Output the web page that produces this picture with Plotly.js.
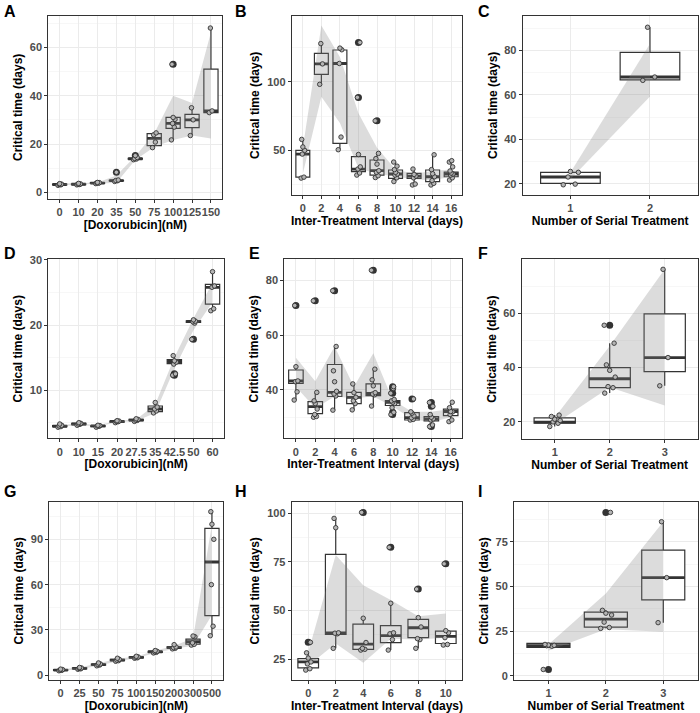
<!DOCTYPE html>
<html><head><meta charset="utf-8">
<script src="https://cdn.plot.ly/plotly-3.0.1.min.js"></script>
<style>html,body{margin:0;padding:0;background:#fff}#plot{width:700px;height:713px}</style>
</head><body><div id="plot"></div>
<script>
// ---------- DATA ----------
// box = [lowerWhisker, q1, median, q3, upperWhisker]; rib = [lower, upper]
const catsA = ['0','10','20','35','50','75','100','125','150'];
const boxA = [[2.9,3.1,3.25,3.4,3.6],[3.1,3.2,3.35,3.5,3.7],[3.6,3.7,3.85,4.0,4.1],[4.5,4.7,4.85,5.0,5.1],[13.5,13.7,13.9,14.1,14.4],[18.5,19.3,22.3,24.3,24.6],[21.7,26.5,28.5,31.0,31.0],[23.5,26.8,30.0,32.3,35.0],[33.0,33.0,33.7,51.0,68.0]];
const ptsA = [[2.9,3.1,3.3,3.4,3.6],[3.1,3.25,3.4,3.5,3.7],[3.6,3.8,3.9,4.0,4.1],[4.5,4.8,4.9,5.1,8.3],[13.5,13.8,14.0,14.4,15.2],[18.5,20.8,23.8,24.6],[21.7,27.0,28.5,30.2,31.0,53.0],[23.5,30.0,35.0],[33.0,33.7,68.0]];
const ribA = [[2.9,3.6],[3.1,3.7],[3.5,4.1],[4.0,7.0],[13.4,14.9],[18.8,24.3],[21.7,40.0],[23.5,37.0],[22.3,66.2]];

const catsB = ['0','2','4','6','8','10','12','14','16'];
const boxB = [[29.8,30.5,47.3,50.0,58.0],[98.1,105.3,113.0,120.6,127.8],[50.5,55.1,113.3,123.1,124.5],[32.0,34.5,36.4,45.4,47.0],[30.2,32.0,35.2,43.0,47.8],[27.3,29.6,32.8,35.7,41.5],[24.8,29.6,31.3,33.3,36.4],[24.8,27.2,30.8,35.7,46.8],[28.4,30.8,32.8,34.2,42.5]];
const ptsB = [[29.8,30.5,47.3,50.0,52.5,58.0],[98.1,113.0,127.8],[50.5,59.7,113.3,123.3,124.5],[32.0,33.5,36.4,38.0,47.0,88.6,128.6],[30.2,31.5,34.0,35.2,40.0,44.0,47.8,71.5],[27.3,30.0,32.0,32.8,34.0,36.0,38.5,41.5],[24.8,25.5,30.0,31.3,32.5,36.4],[24.8,26.0,28.0,30.8,33.0,36.0,46.8],[28.4,30.0,32.0,32.8,33.5,35.0,38.0,41.5,42.5]];
const ribB = [[33,52],[89,141],[70,118],[37,77],[33,52],[31,36],[29,33],[28,35],[31,36]];

const catsC = ['1','2'];
const boxC = [[19.5,20.15,23.0,25.1,25.5],[66.5,66.7,68.0,79.1,90.4]];
const ptsC = [[19.5,19.8,23.0,25.1,25.5],[66.5,68.0,90.4]];
const ribC = [[22.0,25.0],[59.2,83.0]];

const catsD = ['0','10','15','20','27.5','35','42.5','50','60'];
const boxD = [[4.3,4.4,4.45,4.55,4.8],[4.6,4.7,4.8,4.9,5.0],[4.3,4.4,4.5,4.55,4.6],[5.0,5.1,5.2,5.25,5.3],[5.2,5.3,5.4,5.5,5.6],[6.5,6.7,7.1,7.56,8.1],[14.0,14.06,14.4,14.7,15.3],[20.3,20.4,20.56,20.66,20.8],[22.2,23.2,25.8,26.24,28.2]];
const ptsD = [[4.3,4.4,4.5,4.6,4.8],[4.6,4.75,4.8,4.9,5.0],[4.3,4.45,4.5,4.55,4.6],[5.0,5.15,5.2,5.25,5.3],[5.2,5.35,5.4,5.5,5.6],[6.5,6.8,7.1,7.4,8.1],[12.3,12.5,14.0,14.3,14.5,15.3],[17.8,20.3,20.5,20.6,20.8],[22.2,22.5,25.8,26.0,28.2]];
const ribD = [[4.35,4.6],[4.65,4.9],[4.4,4.6],[5.05,5.3],[5.25,5.5],[6.5,7.8],[13.3,15.0],[19.2,21.0],[23.5,26.5]];

const catsE = ['0','2','4','6','8','10','12','14','16'];
const boxE = [[36.3,42.4,43.3,47.3,48.5],[30.0,31.3,33.9,35.7,39.1],[32.6,37.6,39.1,49.3,55.9],[32.7,35.0,37.3,39.1,42.2],[34.1,37.9,38.7,42.2,47.6],[33.5,34.3,35.5,36.1,36.5],[29.0,29.0,29.9,31.7,32.0],[27.2,28.7,29.4,30.2,31.0],[28.4,30.6,32.1,33.0,35.5]];
const ptsE = [[36.3,39.3,43.0,43.3,48.5,70.9],[30.0,30.3,31.0,33.0,35.0,36.0,39.1,72.6],[32.6,37.8,38.5,39.5,43.0,47.0,55.9,76.3],[32.7,35.0,36.0,37.3,39.0,42.2],[34.1,38.2,38.5,39.0,41.5,43.7,47.6,83.8],[31.0,31.8,33.5,35.0,35.5,36.0,36.5,38.8,40.5,41.2],[29.0,29.2,29.8,30.5,31.5,32.0,36.7],[26.6,27.2,29.0,29.4,30.0,31.0,34.0,35.4],[28.4,29.0,31.0,32.0,32.1,33.5,35.5]];
const ribE = [[41.2,51.8],[33.3,43.2],[37.6,55.9],[37.0,41.2],[37.6,53.4],[33.9,36.3],[29.4,32.0],[28.2,32.0],[30.0,33.0]];

const catsF = ['1','2','3'];
const boxF = [[18.3,19.5,19.9,21.5,22.5],[30.6,32.6,35.9,40.0,49.0],[33.3,38.5,43.7,59.8,76.2]];
const ptsF = [[18.3,19.5,20.0,20.5,21.0,22.0,22.5],[30.6,32.6,33.0,36.5,39.0,41.0,49.0,55.6],[33.3,43.7,76.2]];
const ribF = [[19.2,21.6],[32.8,48.0],[26.0,76.2]];

const catsG = ['0','25','50','75','100','150','200','300','500'];
const boxG = [[3.0,3.3,3.5,3.8,4.1],[4.0,4.3,4.6,4.9,5.2],[6.3,6.8,7.1,7.5,8.2],[9.3,9.7,10.1,10.6,11.3],[11.3,11.6,11.9,12.2,12.6],[14.8,15.2,15.6,15.9,16.4],[17.5,17.9,18.3,18.8,20.3],[20.0,20.7,22.3,24.0,26.0],[26.2,39.5,75.0,97.3,108.3]];
const ptsG = [[3.0,3.3,3.5,3.8,4.1],[4.0,4.3,4.6,4.9,5.2],[6.3,6.8,7.1,7.5,8.2],[9.3,9.7,10.1,10.6,11.3],[11.3,11.6,11.9,12.2,12.6],[14.8,15.2,15.6,15.9,16.4],[17.5,17.9,18.3,18.8,20.3],[20.0,20.5,21.5,25.5,26.0],[26.2,32.5,60.0,90.0,100.0,108.3]];
const ribG = [[3.0,4.0],[4.0,5.1],[6.3,8.0],[9.3,11.0],[11.3,12.5],[14.8,16.3],[17.6,19.5],[19.5,24.5],[40.0,100.0]];

const catsH = ['0','2','4','6','8','10'];
const boxH = [[19.3,20.4,23.5,25.2,28.2],[30.5,37.7,38.4,78.9,97.4],[29.6,30.0,32.7,43.0,46.0],[29.6,33.4,37.0,42.2,53.7],[30.5,36.0,41.1,45.4,46.3],[32.2,33.0,36.7,39.4,39.6]];
const ptsH = [[19.3,20.0,22.5,23.5,25.5,28.2,33.6],[30.5,38.0,38.3,38.5,92.6,97.4],[29.6,30.0,30.5,33.5,46.0,100.5],[29.6,35.0,38.0,38.5,53.7,82.5],[30.5,35.0,35.5,41.5,46.3,61.0],[32.2,32.5,36.0,38.5,39.6,74.0]];
const ribH = [[21.5,28.5],[33.0,78.5],[23.1,63.0],[35.5,55.4],[35.0,47.0],[36.0,48.5]];

const catsI = ['1','2','3'];
const boxI = [[15.9,15.9,16.8,18.1,18.1],[26.5,27.2,31.7,35.6,36.8],[29.7,42.4,54.9,70.3,86.2]];
const ptsI = [[3.5,16.5,16.8,17.0,17.2,17.5],[26.5,27.0,30.0,34.0,35.0,36.6,91.4],[29.7,54.9,86.2]];
const ribI = [[14.0,17.5],[26.0,46.0],[24.6,86.2]];

const xTitleDox = '[Doxorubicin](nM)';
const xTitleInt = 'Inter-Treatment Interval (days)';
const xTitleSer = 'Number of Serial Treatment';
const yTitle = 'Critical time (days)';

// ---------- LAYOUT (pixel boxes of each panel) ----------
const W = 700, H = 713;
const panels = [
  {lab:'A', cats:catsA, box:boxA, pts:ptsA, rib:ribA, yr:[-2.76,73.1], dt:20, px:[48.3,222.3,15.7,199], xt:xTitleDox, lp:[2,1]},
  {lab:'B', cats:catsB, box:boxB, pts:ptsB, rib:ribB, yr:[17.5,148.1], dt:50, px:[291.7,462.3,15.7,195], xt:xTitleInt, lp:[233,1]},
  {lab:'C', cats:catsC, box:boxC, pts:ptsC, rib:ribC, yr:[14.9,95.6], dt:20, px:[522.7,697.7,15.7,195], xt:xTitleSer, lp:[476,1]},
  {lab:'D', cats:catsD, box:boxD, pts:ptsD, rib:ribD, yr:[2.6,30.1], dt:10, px:[48.3,224,259.3,438.3], xt:xTitleDox, lp:[2,243]},
  {lab:'E', cats:catsE, box:boxE, pts:ptsE, rib:ribE, yr:[22.3,87.8], dt:20, px:[284.3,462.3,259.3,438.3], xt:xTitleInt, lp:[247,243]},
  {lab:'F', cats:catsF, box:boxF, pts:ptsF, rib:ribF, yr:[13.7,79.9], dt:20, px:[521.7,697.7,259.3,439], xt:xTitleSer, lp:[476,243]},
  {lab:'G', cats:catsG, box:boxG, pts:ptsG, rib:ribG, yr:[-3.1,114.9], dt:30, px:[49.3,223.3,501.7,680], xt:xTitleDox, lp:[2,481]},
  {lab:'H', cats:catsH, box:boxH, pts:ptsH, rib:ribH, yr:[14.2,106], dt:25, px:[291.7,462.3,501.7,680], xt:xTitleInt, lp:[233,481]},
  {lab:'I', cats:catsI, box:boxI, pts:ptsI, rib:ribI, yr:[-2.4,97.4], dt:25, px:[514,697.7,501.7,680], xt:xTitleSer, lp:[476,481]},
];

const jit = [-0.09,0.06,-0.03,0.1,0.0,-0.06,0.08,-0.1,0.03,0.05];
const tickFont = {family:'Liberation Sans, Arial, sans-serif', size:11, color:'#4d4d4d', weight:'bold'};
const titleFont = {family:'Liberation Sans, Arial, sans-serif', size:12, color:'#000', weight:'bold'};

const data = [];
const layout = {
  width: W, height: H, margin:{l:0,r:0,t:0,b:0},
  paper_bgcolor:'#fff', plot_bgcolor:'#fff', showlegend:false,
  annotations: []
};

panels.forEach((p, k) => {
  const n = k + 1;
  const xa = n === 1 ? 'x' : 'x' + n;
  const ya = n === 1 ? 'y' : 'y' + n;
  const idx = p.cats.map((_, i) => i);
  const common = {xaxis: xa, yaxis: ya, hoverinfo:'skip', showlegend:false};

  data.push(Object.assign({
    type:'box', x: idx,
    lowerfence: p.box.map(b => b[0]), q1: p.box.map(b => b[1]),
    median: p.box.map(b => b[2]), q3: p.box.map(b => b[3]),
    upperfence: p.box.map(b => b[4]),
    width: 0.75, whiskerwidth: 0, boxpoints: false,
    fillcolor:'#ffffff', line:{color:'#333333', width:1.2}
  }, common));

  const mx = [], my = [];
  p.box.forEach((b, i) => { mx.push(i - 0.375, i + 0.375, null); my.push(b[2], b[2], null); });
  data.push(Object.assign({type:'scatter', mode:'lines', x:mx, y:my, line:{color:'#333333', width:2.8}}, common));

  data.push(Object.assign({
    type:'scatter', mode:'lines',
    x: idx.concat(idx.slice().reverse()),
    y: p.rib.map(r => r[1]).concat(p.rib.map(r => r[0]).reverse()),
    fill:'toself', fillcolor:'rgba(128,128,128,0.28)', line:{width:0, color:'rgba(0,0,0,0)'}
  }, common));

  const ox = [], oy = [];
  p.pts.forEach((arr, i) => arr.forEach(v => {
    if (v < p.box[i][0] - 1e-9 || v > p.box[i][4] + 1e-9) { ox.push(i); oy.push(v); }
  }));
  data.push(Object.assign({type:'scatter', mode:'markers', x:ox, y:oy,
    marker:{size:7, color:'#333333'}}, common));

  const px = [], py = [];
  p.pts.forEach((arr, i) => arr.forEach((v, j) => { px.push(i + jit[j % jit.length]); py.push(v); }));
  data.push(Object.assign({type:'scatter', mode:'markers', x:px, y:py,
    marker:{size:4.5, color:'#b5b5b5', line:{color:'#333333', width:0.9}}}, common));

  const [l, r, t, bt] = p.px;
  const key = n === 1 ? '' : n;
  layout['xaxis' + key] = {
    domain:[l / W, r / W], anchor: ya, range:[-0.6, p.cats.length - 0.4],
    tickmode:'array', tickvals: idx, ticktext: p.cats,
    showgrid:true, gridcolor:'#ebebeb', gridwidth:1, zeroline:false,
    showline:true, mirror:true, linecolor:'#333333', linewidth:1,
    ticks:'outside', ticklen:3, tickcolor:'#333333', tickwidth:1,
    tickfont: tickFont, tickangle:0,
    title:{text:p.xt, font:titleFont, standoff:2}, automargin:false, fixedrange:true
  };
  layout['yaxis' + key] = {
    domain:[1 - bt / H, 1 - t / H], anchor: xa, range:p.yr,
    tickmode:'linear', tick0:0, dtick:p.dt,
    showgrid:true, gridcolor:'#ebebeb', gridwidth:1, zeroline:false,
    minor:{tick0:0, dtick:p.dt / 2, showgrid:true, gridcolor:'#f2f2f2', gridwidth:0.6, ticks:''},
    showline:true, mirror:true, linecolor:'#333333', linewidth:1,
    ticks:'outside', ticklen:3, tickcolor:'#333333', tickwidth:1,
    tickfont: tickFont,
    title:{text:yTitle, font:titleFont, standoff:4}, automargin:false, fixedrange:true
  };
  layout.annotations.push({
    text: p.lab, xref:'paper', yref:'paper', x: p.lp[0] / W, y: 1 - p.lp[1] / H,
    xanchor:'left', yanchor:'top', showarrow:false,
    font:{family:'Liberation Sans, Arial, sans-serif', size:16, color:'#000', weight:'bold'}
  });
});

Plotly.newPlot('plot', data, layout, {staticPlot:true, displayModeBar:false});
</script>
</body></html>
